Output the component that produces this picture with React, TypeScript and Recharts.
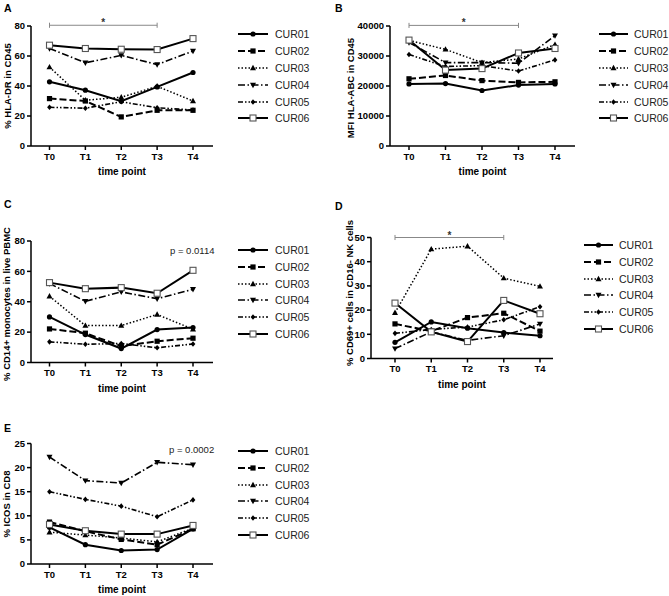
import React from 'react';
import { LineChart, Line, XAxis, YAxis, ReferenceLine } from 'recharts';

const timePoints = ['T0', 'T1', 'T2', 'T3', 'T4'];
const patients = ['CUR01', 'CUR02', 'CUR03', 'CUR04', 'CUR05', 'CUR06'];

// one row per patient, one value per time point
const hlaDr = [
  [42.8, 37.2, 29.8, 39.4, 49],
  [31.6, 30, 19.4, 23.8, 23.8],
  [52.6, 30.5, 32.5, 39.8, 30],
  [65, 55.5, 60.4, 54.3, 63.3],
  [25.8, 25.2, 29.5, 25.5, 24],
  [67.2, 65, 64.5, 64.3, 71.6],
];

const hlaAbc = [
  [20700, 20800, 18500, 20300, 20700],
  [22400, 23500, 21800, 21200, 21400],
  [35200, 32200, 27800, 29000, 33800],
  [34500, 27800, 27800, 27600, 36800],
  [30500, 26500, 26800, 25000, 28700],
  [35300, 25300, 25800, 31000, 32500],
];

const cd14 = [
  [30, 18.4, 9.2, 21.7, 23],
  [22.1, 19.3, 10.8, 14, 16],
  [43.6, 24.3, 24.3, 31.6, 21.9],
  [52, 40.3, 46.5, 42, 48.2],
  [13.6, 12, 12.5, 9.7, 12.2],
  [52.6, 48.6, 49.3, 45.6, 60.7],
];

const cd69 = [
  [6.7, 15.1, 12.5, 10.7, 9.4],
  [14.3, 11.3, 16.9, 18.7, 11.3],
  [18.9, 45.2, 46.4, 33.2, 29.8],
  [4.1, 11, 7.5, 9.4, 14.3],
  [10.4, 12, 13, 16, 21.4],
  [22.9, 11, 7, 24, 18.5],
];

const icos = [
  [7.6, 4, 2.8, 3, 7.3],
  [8.7, 6.8, 5.1, 4, 7.3],
  [6.6, 6, 5.4, 4.6, 7.4],
  [22.2, 17.3, 16.8, 21.1, 20.6],
  [15, 13.4, 12, 9.8, 13.3],
  [8.2, 6.9, 6.2, 6.2, 8],
];

const hlaDrTicks = [0, 20, 40, 60, 80];
const hlaAbcTicks = [0, 10000, 20000, 30000, 40000];
const cd14Ticks = [0, 20, 40, 60, 80];
const cd69Ticks = [0, 10, 20, 30, 40, 50];
const icosTicks = [0, 5, 10, 15, 20, 25];

const FONT = '"Liberation Sans", Arial, Helvetica, sans-serif';

const seriesStyle = [
  { dash: undefined, width: 2, marker: 'circle' },
  { dash: '7 3', width: 2, marker: 'square' },
  { dash: '1.5 2', width: 1.5, marker: 'triUp' },
  { dash: '7 2.5 1.5 2.5', width: 1.6, marker: 'triDown' },
  { dash: '5 2 1.5 2 1.5 2', width: 1.6, marker: 'diamond' },
  { dash: undefined, width: 2, marker: 'openSquare' },
];

function Marker({ kind, cx, cy }: { kind: string; cx: number; cy: number }) {
  if (cx == null || cy == null) return null;
  switch (kind) {
    case 'circle':
      return <circle cx={cx} cy={cy} r={2.6} fill="#000" />;
    case 'square':
      return <rect x={cx - 2.6} y={cy - 2.6} width={5.2} height={5.2} fill="#000" />;
    case 'triUp':
      return <polygon points={`${cx},${cy - 3.2} ${cx + 3},${cy + 2.2} ${cx - 3},${cy + 2.2}`} fill="#000" />;
    case 'triDown':
      return <polygon points={`${cx},${cy + 3.2} ${cx + 3},${cy - 2.2} ${cx - 3},${cy - 2.2}`} fill="#000" />;
    case 'diamond':
      return <polygon points={`${cx},${cy - 2.8} ${cx + 2.4},${cy} ${cx},${cy + 2.8} ${cx - 2.4},${cy}`} fill="#000" />;
    default:
      return <rect x={cx - 3} y={cy - 3} width={6} height={6} fill="#fff" stroke="#555" strokeWidth={1.1} />;
  }
}

interface PanelProps {
  values: number[][];
  ticks: number[];
  letter: string;
  yTitle: string;
  // chart box and plot area, page coordinates
  L: number; T: number; x0: number; x1: number; y0: number; y1: number;
  padL: number; padR: number;
  letterPos: [number, number];
  yTitlePos: [number, number];
  legend: { x0: number; x1: number; tx: number; y: number };
  sig?: { y: number; cap: number };
  pValue?: { text: string; x: number; y: number };
}

function Panel(p: PanelProps) {
  const rows = timePoints.map((t, i) => {
    const r: any = { time: t };
    patients.forEach((name, k) => { r[name] = p.values[k][i]; });
    return r;
  });
  const xAxisH = 24;
  const width = p.x1 - p.L + 4;
  const height = p.y1 - p.T + xAxisH;
  const max = p.ticks[p.ticks.length - 1];
  const tickStyle = { fontSize: 9.5, fontWeight: 'bold', fill: '#000', fontFamily: FONT };
  const axisStroke = { stroke: '#000', strokeWidth: 1.5 };

  return (
    <>
      <div style={{ position: 'absolute', left: p.L, top: p.T }}>
        <LineChart width={width} height={height} data={rows}
          margin={{ top: p.y0 - p.T, right: 4, left: 0, bottom: 0 }}>
          <XAxis dataKey="time" height={xAxisH} padding={{ left: p.padL, right: p.padR }}
            interval={0} tickSize={4} tickMargin={3} tick={tickStyle}
            axisLine={axisStroke} tickLine={axisStroke} />
          <YAxis type="number" domain={[0, max]} ticks={p.ticks} width={p.x0 - p.L}
            interval={0} tickSize={4} tickMargin={2} tick={tickStyle}
            axisLine={axisStroke} tickLine={axisStroke} />
          {p.sig && (
            <ReferenceLine segment={[{ x: 'T0', y: p.sig.y }, { x: 'T3', y: p.sig.y }]}
              stroke="#888" strokeWidth={1} ifOverflow="visible"
              label={{ value: '*', position: 'top', offset: -1, fill: '#333', fontSize: 10, fontWeight: 'bold', fontFamily: FONT }} />
          )}
          {p.sig && (
            <ReferenceLine segment={[{ x: 'T0', y: p.sig.y + p.sig.cap }, { x: 'T0', y: p.sig.y - p.sig.cap }]}
              stroke="#888" strokeWidth={1} ifOverflow="visible" />
          )}
          {p.sig && (
            <ReferenceLine segment={[{ x: 'T3', y: p.sig.y + p.sig.cap }, { x: 'T3', y: p.sig.y - p.sig.cap }]}
              stroke="#888" strokeWidth={1} ifOverflow="visible" />
          )}
          {patients.map((name, k) => (
            <Line key={name} dataKey={name} type="linear" stroke="#000"
              strokeWidth={seriesStyle[k].width} strokeDasharray={seriesStyle[k].dash}
              isAnimationActive={false} activeDot={false}
              dot={(dp: any) => <Marker key={`${name}-${dp.index}`} kind={seriesStyle[k].marker} cx={dp.cx} cy={dp.cy} />} />
          ))}
        </LineChart>
      </div>

      <div style={{ position: 'absolute', left: p.letterPos[0], top: p.letterPos[1], transform: 'translateY(-50%)',
        fontSize: 10.5, fontWeight: 'bold', lineHeight: 1 }}>{p.letter}</div>

      <div style={{ position: 'absolute', left: p.yTitlePos[0] - 100, top: p.yTitlePos[1] - 7, width: 200, height: 14,
        lineHeight: '14px', textAlign: 'center', fontSize: 9.5, fontWeight: 'bold', transform: 'rotate(-90deg)', whiteSpace: 'nowrap' }}>
        {p.yTitle}
      </div>

      <div style={{ position: 'absolute', left: (p.x0 + p.x1) / 2 - 50, top: p.y1 + 19, width: 100, textAlign: 'center',
        fontSize: 10, fontWeight: 'bold', lineHeight: '14px' }}>time point</div>

      {p.pValue && (
        <div style={{ position: 'absolute', left: p.pValue.x, top: p.pValue.y - 7, lineHeight: '14px', fontSize: 9.5, color: '#222' }}>
          {p.pValue.text}
        </div>
      )}

      {patients.map((name, k) => {
        const cy = p.legend.y + k * 16.8;
        const w = p.legend.x1 - p.legend.x0;
        return (
          <React.Fragment key={name}>
            <svg style={{ position: 'absolute', left: p.legend.x0 - 2, top: cy - 6 }} width={w + 4} height={12}>
              <line x1={2} x2={w + 2} y1={6} y2={6} stroke="#000" strokeWidth={seriesStyle[k].width}
                strokeDasharray={seriesStyle[k].dash} />
              <Marker kind={seriesStyle[k].marker} cx={w / 2 + 2} cy={6} />
            </svg>
            <div style={{ position: 'absolute', left: p.legend.tx, top: cy - 7, lineHeight: '14px', fontSize: 10.5, color: '#222' }}>
              {name}
            </div>
          </React.Fragment>
        );
      })}
    </>
  );
}

export default function App() {
  return (
    <div style={{ position: 'absolute', left: 0, top: 0, width: 669, height: 596, background: '#fff', fontFamily: FONT, color: '#000' }}>
      <Panel values={hlaDr} ticks={hlaDrTicks} letter="A" yTitle="% HLA-DR in CD45"
        L={0} T={0} x0={31} x1={213} y0={26} y1={146} padL={18.5} padR={20}
        letterPos={[4, 7.5]} yTitlePos={[8, 86]}
        legend={{ x0: 238, x1: 268, tx: 275, y: 34.3 }}
        sig={{ y: 80.5, cap: 1.7 }} />
      <Panel values={hlaAbc} ticks={hlaAbcTicks} letter="B" yTitle="MFI HLA-ABC in CD45"
        L={335} T={0} x0={390} x1={575} y0={26} y1={146} padL={19} padR={20}
        letterPos={[335, 7.5]} yTitlePos={[350.5, 88]}
        legend={{ x0: 599, x1: 628, tx: 634, y: 34.3 }}
        sig={{ y: 40200, cap: 850 }} />
      <Panel values={cd14} ticks={cd14Ticks} letter="C" yTitle="% CD14+ monocytes in live PBMC"
        L={0} T={200} x0={31} x1={213} y0={241} y1={362.5} padL={18.5} padR={20}
        letterPos={[4, 204]} yTitlePos={[7, 304]}
        legend={{ x0: 238, x1: 268, tx: 275, y: 250 }}
        pValue={{ text: 'p = 0.0114', x: 170, y: 251 }} />
      <Panel values={cd69} ticks={cd69Ticks} letter="D" yTitle="% CD69+ cells in CD16- NK cells"
        L={335} T={200} x0={371} x1={553} y0={237.5} y1={358.5} padL={24} padR={13}
        letterPos={[335, 206]} yTitlePos={[350, 293]}
        legend={{ x0: 584, x1: 613, tx: 619, y: 245 }}
        sig={{ y: 50, cap: 1.05 }} />
      <Panel values={icos} ticks={icosTicks} letter="E" yTitle="% ICOS in CD8"
        L={0} T={400} x0={31} x1={213} y0={443.5} y1={564} padL={18.5} padR={20}
        letterPos={[4, 428]} yTitlePos={[7, 504]}
        legend={{ x0: 238, x1: 268, tx: 275, y: 451 }}
        pValue={{ text: 'p = 0.0002', x: 169, y: 450.3 }} />
    </div>
  );
}
